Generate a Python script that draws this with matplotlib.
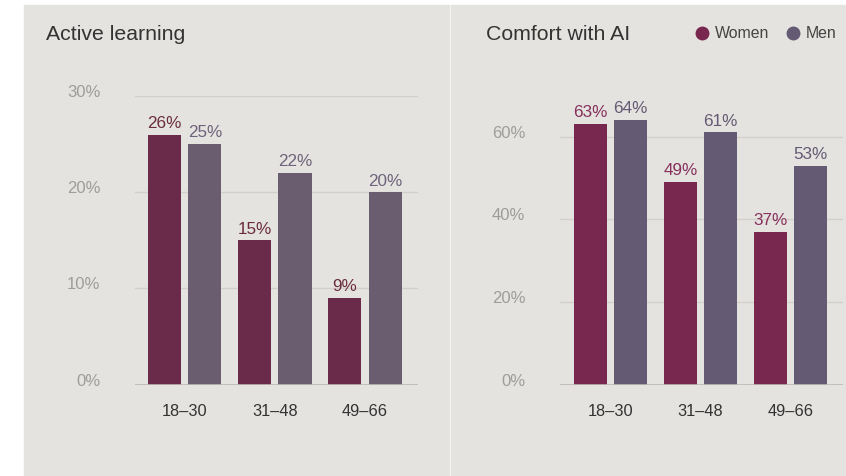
import matplotlib.pyplot as plt
from matplotlib.patches import Rectangle
from matplotlib.lines import Line2D

plt.rcParams['font.family'] = ['Liberation Sans', 'DejaVu Sans']

groups = ['18–30', '31–48', '49–66']
series = ['Women', 'Men']

active_women = [26, 15, 9]
active_men = [25, 22, 20]
comfort_women = [63, 49, 37]
comfort_men = [64, 61, 53]

W, H = 846, 477
bg = '#e4e3e0'

fig = plt.figure(figsize=(W / 100, H / 100), dpi=100)
fig.patch.set_facecolor('white')

# two grey panels, separated by a thin white gap
fig.add_artist(Rectangle((24 / W, 0), (449 - 24) / W, 1 - 6 / H,
                         transform=fig.transFigure, color=bg, zorder=0))
fig.add_artist(Rectangle((451 / W, 0), (W - 451) / W, 1 - 6 / H,
                         transform=fig.transFigure, color=bg, zorder=0))


def px_axes(x0, x1, ytop, ybase):
    return fig.add_axes([x0 / W, 1 - ybase / H, (x1 - x0) / W, (ybase - ytop) / H])


def draw_panel(ax, women, men, cw, cm, lw_col, lm_col, ymax, ticks, xlim):
    x = range(len(groups))
    off, bw = 0.225, 0.367
    bw_ = ax.bar([i - off for i in x], women, bw, color=cw, zorder=3)
    bm_ = ax.bar([i + off for i in x], men, bw, color=cm, zorder=3)
    for bars, vals, col in ((bw_, women, lw_col), (bm_, men, lm_col)):
        for b, v in zip(bars, vals):
            ax.annotate(f'{v}%', (b.get_x() + b.get_width() / 2, v),
                        xytext=(0, 3.5), textcoords='offset points',
                        ha='center', va='bottom', fontsize=12.3, color=col)
    ax.set_ylim(0, ymax)
    ax.set_xlim(*xlim)
    ax.set_yticks(ticks)
    ax.set_yticklabels([f'{t}%' for t in ticks], va='baseline')
    ax.set_xticks(list(x))
    ax.set_xticklabels(groups)
    ax.tick_params(axis='y', length=0, pad=25, labelsize=12, labelcolor='#9f9d9b')
    ax.tick_params(axis='x', length=0, pad=13, labelsize=11.8, labelcolor='#333333')
    ax.set_facecolor('none')
    for s in ax.spines.values():
        s.set_visible(False)
    for t in ticks[1:]:
        ax.axhline(t, color='#d3d0cb', lw=1, zorder=1)
    ax.axhline(0, color='#bdb9b4', lw=1.2, zorder=4)


ax1 = px_axes(135, 418, 97.3, 385.5)
draw_panel(ax1, active_women, active_men, '#6a2a4a', '#6a5d70',
           '#6b2d3d', '#6e637a', 30, [0, 10, 20, 30], (-0.55, 2.59))

ax2 = px_axes(560, 843, 96.3, 385.5)
draw_panel(ax2, comfort_women, comfort_men, '#78274f', '#645a73',
           '#86305c', '#645a73', 70, [0, 20, 40, 60], (-0.561, 2.583))

fig.text(46 / W, 1 - 40.5 / H, 'Active learning', fontsize=15.3,
         color='#333333', va='baseline')
fig.text(486 / W, 1 - 40.5 / H, 'Comfort with AI', fontsize=15.3,
         color='#333333', va='baseline')

# legend
for name, col, cx in zip(series, ['#78274f', '#645a73'], [702, 793]):
    fig.add_artist(Line2D([cx / W], [1 - 34 / H], marker='o', markersize=9,
                          color=col, transform=fig.transFigure))
    fig.text((cx + 13) / W, 1 - 34 / H, name, fontsize=11.4,
             color='#444444', va='center')

fig.savefig('out.png', dpi=100, facecolor='white')
